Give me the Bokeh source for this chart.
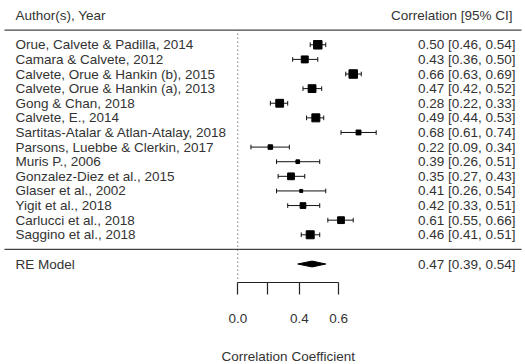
import numpy as np
from bokeh.plotting import figure
from bokeh.layouts import column
from bokeh.models import Range1d, LinearAxis, FixedTicker, CustomJSTickFormatter
from bokeh.core.properties import value
from bokeh.embed import file_html
from bokeh.resources import INLINE

# ---- data -------------------------------------------------------------
studies = [
    "Orue, Calvete & Padilla, 2014",
    "Camara & Calvete, 2012",
    "Calvete, Orue & Hankin (b), 2015",
    "Calvete, Orue & Hankin (a), 2013",
    "Gong & Chan, 2018",
    "Calvete, E., 2014",
    "Sartitas-Atalar & Atlan-Atalay, 2018",
    "Parsons, Luebbe & Clerkin, 2017",
    "Muris P., 2006",
    "Gonzalez-Diez et al., 2015",
    "Glaser et al., 2002",
    "Yigit et al., 2018",
    "Carlucci et al., 2018",
    "Saggino et al., 2018",
]
estimates = [0.50, 0.43, 0.66, 0.47, 0.28, 0.49, 0.68, 0.22, 0.39, 0.35, 0.41, 0.42, 0.61, 0.46]
ci_lower = [0.46, 0.36, 0.63, 0.42, 0.22, 0.44, 0.61, 0.09, 0.26, 0.27, 0.26, 0.33, 0.55, 0.41]
ci_upper = [0.54, 0.50, 0.69, 0.52, 0.33, 0.53, 0.74, 0.34, 0.51, 0.43, 0.54, 0.51, 0.66, 0.51]
weights = [8.3, 7.4, 8.3, 7.9, 7.9, 8.0, 6.2, 6.0, 5.5, 7.3, 5.1, 6.7, 7.3, 8.0]

re_label = "RE Model"
re_estimate, re_lower, re_upper = 0.47, 0.39, 0.54

axis_ticks = [0.0, 0.2, 0.4, 0.6]
axis_tick_labels = ["0.0", "", "0.4", "0.6"]
axis_title = "Correlation Coefficient"

# ---- layout -----------------------------------------------------------
W = 525
H_MAIN, H_TITLE = 333, 31
X0, X1 = -1.6298, 1.976      # Fisher-z range across the full width
Y0, Y1 = -2.265, 17.03       # row units
FONT = value("Liberation Sans")
FS = "13.5px"
TXT = "#333333"


def xs(px):
    """horizontal screen position -> Fisher-z data coordinate"""
    return X0 + px / W * (X1 - X0)


k = len(studies)
rows = np.arange(k, 0, -1).astype(float)
z_est = np.arctanh(estimates)
z_lo = np.arctanh(ci_lower)
z_hi = np.arctanh(ci_upper)
w = np.array(weights)
sizes = 3 + (w - w.min()) / (w.max() - w.min()) * 5.5

x_range = Range1d(X0, X1)
p = figure(width=W, height=H_MAIN, x_range=x_range, y_range=Range1d(Y0, Y1),
           x_axis_type=None, y_axis_type=None, toolbar_location=None,
           output_backend="svg", min_border=0, min_border_bottom=51,
           outline_line_color=None, background_fill_color="white",
           border_fill_color="white")

# bottom axis on the correlation (Fisher-z) scale
z_ticks = [float(v) for v in np.arctanh(axis_ticks)]
axis = LinearAxis(
    ticker=FixedTicker(ticks=z_ticks),
    formatter=CustomJSTickFormatter(args=dict(tick_pos=z_ticks, tick_text=axis_tick_labels), code="""
        let best = 0;
        for (let i = 0; i < tick_pos.length; i++) {
            if (Math.abs(tick_pos[i] - tick) < Math.abs(tick_pos[best] - tick)) best = i;
        }
        return tick_text[best];
    """),
    bounds=(z_ticks[0], z_ticks[-1]),
)
axis.major_tick_out = 12
axis.major_tick_in = 0
axis.minor_tick_out = 0
axis.minor_tick_in = 0
axis.axis_line_color = "#222222"
axis.axis_line_width = 1.2
axis.major_tick_line_color = "#222222"
axis.major_tick_line_width = 1.2
axis.major_label_text_font = "Liberation Sans"
axis.major_label_text_font_size = FS
axis.major_label_text_color = TXT
axis.major_label_standoff = 19
p.add_layout(axis, "below")

# reference line at zero
p.segment(x0=[0.0], y0=[-2.0], x1=[0.0], y1=[k + 1.0], line_color="#333333",
          line_width=1, line_dash="1 3")

# header and footer rules
p.segment(x0=[xs(4), xs(4)], y0=[k + 1.0, 0.0], x1=[xs(521), xs(521)], y1=[k + 1.0, 0.0],
          line_color="#444444", line_width=1.3)

# confidence intervals with end caps
cap = 0.16
p.segment(x0=z_lo, y0=rows, x1=z_hi, y1=rows, line_color="#111111", line_width=1)
p.segment(x0=z_lo, y0=rows - cap, x1=z_lo, y1=rows + cap, line_color="#111111", line_width=1)
p.segment(x0=z_hi, y0=rows - cap, x1=z_hi, y1=rows + cap, line_color="#111111", line_width=1)

# study estimates, square size by weight
p.scatter(x=z_est, y=rows, size=sizes, marker="square", fill_color="black",
          line_color="black")

# pooled estimate diamond
d = 0.2
ze, zl, zh = np.arctanh([re_estimate, re_lower, re_upper])
p.patch(x=[zl, ze, zh, ze], y=[-1 + 0, -1 + d, -1 + 0, -1 - d],
        fill_color="black", line_color="black", line_width=1)

# texts
ci_text = [f"{e:.2f} [{lo:.2f}, {hi:.2f}]" for e, lo, hi in zip(estimates, ci_lower, ci_upper)]
p.text(x=[xs(15)] * k, y=rows, text=studies, text_font=FONT, text_font_size=FS,
       text_color=TXT, text_align="left", text_baseline="middle")
p.text(x=[xs(515)] * k, y=rows, text=ci_text, text_font=FONT, text_font_size=FS,
       text_color=TXT, text_align="right", text_baseline="middle")
p.text(x=[xs(15)], y=[k + 2.0], text=["Author(s), Year"], text_font=FONT,
       text_font_size=FS, text_color=TXT, text_align="left", text_baseline="middle")
p.text(x=[xs(512)], y=[k + 2.0], text=["Correlation [95% CI]"], text_font=FONT,
       text_font_size=FS, text_color=TXT, text_align="right", text_baseline="middle")
p.text(x=[xs(15)], y=[-1.0], text=[re_label], text_font=FONT, text_font_size=FS,
       text_color=TXT, text_align="left", text_baseline="middle")
p.text(x=[xs(515)], y=[-1.0], text=[f"{re_estimate:.2f} [{re_lower:.2f}, {re_upper:.2f}]"],
       text_font=FONT, text_font_size=FS, text_color=TXT, text_align="right",
       text_baseline="middle")

# strip below holding the axis title, centred under the axis span
t = figure(width=W, height=H_TITLE, x_range=x_range, y_range=Range1d(0, 1),
           x_axis_type=None, y_axis_type=None, toolbar_location=None,
           output_backend="svg", min_border=0, outline_line_color=None,
           background_fill_color="white", border_fill_color="white")
t.text(x=[(z_ticks[0] + z_ticks[-1]) / 2], y=[0.26], text=[axis_title], text_font=FONT,
       text_font_size=FS, text_color=TXT, text_align="center", text_baseline="middle")

open("out.html", "w").write(file_html(column(p, t, spacing=0), INLINE))
